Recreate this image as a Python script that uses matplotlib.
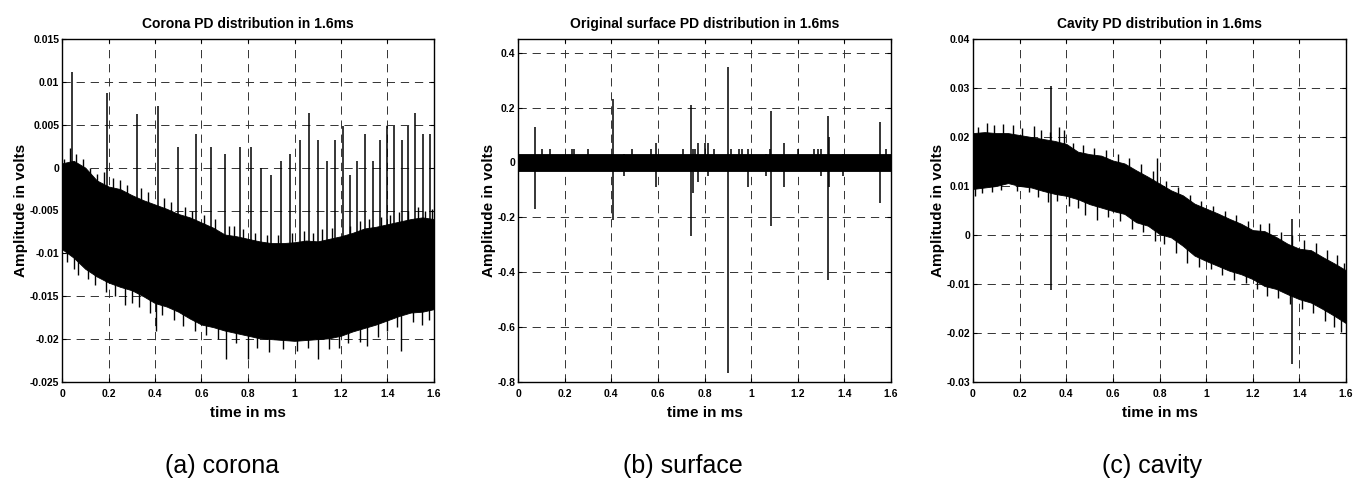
import numpy as np
import matplotlib
matplotlib.use('Agg')
import matplotlib.pyplot as plt
from matplotlib.ticker import FuncFormatter

plt.rcParams['font.family'] = ['Liberation Sans', 'DejaVu Sans']
plt.rcParams['font.weight'] = 'bold'

# envelope sample times (ms)
t_env = [round(0.05 * i, 2) for i in range(33)]

# ---- (a) corona ----
up1 = [0.0005, 0.0008, 0.0000, -0.0015, -0.0022, -0.0025, -0.0032, -0.0038, -0.0043, -0.0048, -0.0054,
       -0.0058, -0.0064, -0.0070, -0.0078, -0.0080, -0.0083, -0.0086, -0.0088, -0.0088, -0.0087, -0.0085,
       -0.0086, -0.0083, -0.0080, -0.0076, -0.0071, -0.0069, -0.0066, -0.0063, -0.0060, -0.0058, -0.0060]
lo1 = [-0.0095, -0.0105, -0.0118, -0.0127, -0.0134, -0.0139, -0.0143, -0.0150, -0.0158, -0.0162, -0.0168,
       -0.0176, -0.0183, -0.0186, -0.0190, -0.0193, -0.0196, -0.0199, -0.0200, -0.0201, -0.0202, -0.0201,
       -0.0200, -0.0199, -0.0196, -0.0191, -0.0187, -0.0183, -0.0178, -0.0173, -0.0169, -0.0168, -0.0165]
f1u_t = [0.01, 0.035, 0.06, 0.09, 0.12, 0.15, 0.18, 0.22, 0.25, 0.28, 0.34, 0.37, 0.44, 0.47, 0.53, 0.56,
         0.61, 0.66, 0.72, 0.74, 0.78, 0.83, 0.88, 0.93, 0.99, 1.04, 1.08, 1.12, 1.16, 1.24, 1.28, 1.32,
         1.37, 1.41, 1.45, 1.49, 1.53, 1.56, 1.59]
f1u_y = [0.0010, 0.0023, 0.0016, 0.0010, 0.0000, -0.0008, -0.0005, -0.0012, -0.0015, -0.0020, -0.0024,
         -0.0028, -0.0036, -0.0040, -0.0046, -0.0050, -0.0055, -0.0060, -0.0068, -0.0068, -0.0072, -0.0076,
         -0.0078, -0.0078, -0.0076, -0.0074, -0.0076, -0.0072, -0.0070, -0.0068, -0.0062, -0.0060, -0.0058,
         -0.0055, -0.0052, -0.0050, -0.0046, -0.0050, -0.0048]
f1d_t = [0.02, 0.05, 0.07, 0.11, 0.14, 0.19, 0.23, 0.27, 0.30, 0.33, 0.38, 0.405, 0.43, 0.48, 0.52, 0.57,
         0.62, 0.67, 0.705, 0.75, 0.80, 0.84, 0.89, 0.95, 1.01, 1.06, 1.10, 1.15, 1.19, 1.23, 1.28, 1.31,
         1.36, 1.40, 1.44, 1.46, 1.51, 1.55, 1.58]
f1d_y = [-0.0110, -0.0118, -0.0125, -0.0130, -0.0137, -0.0145, -0.0150, -0.0160, -0.0158, -0.0163, -0.0170,
         -0.0190, -0.0172, -0.0178, -0.0185, -0.0190, -0.0195, -0.0200, -0.0223, -0.0205, -0.0223, -0.0210,
         -0.0215, -0.0212, -0.0214, -0.0210, -0.0223, -0.0212, -0.0210, -0.0205, -0.0203, -0.0208, -0.0198,
         -0.0190, -0.0186, -0.0214, -0.0180, -0.0184, -0.0178]
s1_t = [0.042, 0.192, 0.321, 0.414, 0.50, 0.576, 0.641, 0.701, 0.766, 0.814, 0.856, 0.897, 0.942, 0.981,
        1.024, 1.062, 1.10, 1.138, 1.174, 1.21, 1.239, 1.267, 1.303, 1.336, 1.368, 1.396, 1.43, 1.461,
        1.49, 1.518, 1.551, 1.583]
s1_top = [0.0112, 0.0087, 0.0063, 0.0072, 0.0024, 0.0039, 0.0024, 0.0016, 0.0024, 0.0024, 0.0000, -0.0009,
          0.0008, 0.0016, 0.0032, 0.0064, 0.0032, 0.0008, 0.0032, 0.0048, -0.0009, 0.0008, 0.0039, 0.0008,
          0.0032, 0.0048, 0.0048, 0.0032, 0.0048, 0.0064, 0.0039, 0.0039]

# ---- (b) surface ----
t2_env = [0, 1.6]
up2 = [0.03, 0.03]
lo2 = [-0.03, -0.03]
s2_t = [0.072, 0.103, 0.139, 0.232, 0.240, 0.302, 0.408, 0.455, 0.489, 0.570, 0.593, 0.706, 0.742, 0.752,
        0.760, 0.772, 0.800, 0.817, 0.842, 0.901, 0.912, 0.950, 0.960, 0.988, 1.062, 1.082, 1.086, 1.143,
        1.200, 1.270, 1.285, 1.300, 1.330, 1.335, 1.395, 1.553, 1.578]
s2_top = [0.131, 0.049, 0.05, 0.05, 0.05, 0.05, 0.23, 0.03, 0.05, 0.05, 0.07, 0.05, 0.21, 0.05,
          0.05, 0.07, 0.07, 0.07, 0.05, 0.349, 0.05, 0.05, 0.05, 0.05, 0.03, 0.05, 0.188, 0.07,
          0.05, 0.05, 0.05, 0.05, 0.17, 0.094, 0.03, 0.146, 0.05]
s2_bot = [-0.169, -0.03, -0.03, -0.03, -0.03, -0.03, -0.209, -0.049, -0.03, -0.03, -0.088, -0.03, -0.267, -0.11,
          -0.03, -0.07, -0.03, -0.05, -0.03, -0.767, -0.03, -0.03, -0.03, -0.088, -0.049, -0.03, -0.231, -0.088,
          -0.03, -0.03, -0.03, -0.049, -0.43, -0.09, -0.049, -0.149, -0.03]

# ---- (c) cavity ----
up3 = [0.0208, 0.0210, 0.0208, 0.0208, 0.0204, 0.0200, 0.0196, 0.0192, 0.0186, 0.0170, 0.0165, 0.0162,
       0.0152, 0.0146, 0.0132, 0.0119, 0.0105, 0.0091, 0.0081, 0.0064, 0.0054, 0.0044, 0.0033, 0.0023,
       0.0010, 0.0008, -0.0004, -0.0018, -0.0028, -0.0031, -0.0045, -0.0058, -0.0072]
lo3 = [0.0094, 0.0097, 0.0100, 0.0106, 0.0100, 0.0097, 0.0090, 0.0084, 0.0080, 0.0073, 0.0063, 0.0056,
       0.0049, 0.0043, 0.0026, 0.0019, 0.0002, -0.0005, -0.0022, -0.0042, -0.0053, -0.0063, -0.0073, -0.0080,
       -0.0090, -0.0104, -0.0110, -0.0121, -0.0131, -0.0138, -0.0151, -0.0165, -0.0180]
f3u_t = [0.02, 0.06, 0.09, 0.13, 0.17, 0.21, 0.26, 0.29, 0.33, 0.37, 0.39, 0.43, 0.47, 0.52, 0.57, 0.62,
         0.67, 0.72, 0.77, 0.79, 0.83, 0.88, 0.93, 0.98, 1.03, 1.08, 1.13, 1.18, 1.23, 1.27, 1.32, 1.37,
         1.42, 1.47, 1.52, 1.56, 1.59]
f3u_y = [0.0220, 0.0228, 0.0224, 0.0226, 0.0225, 0.0218, 0.0222, 0.0214, 0.0210, 0.0220, 0.0214, 0.0188,
         0.0184, 0.0178, 0.0174, 0.0166, 0.0158, 0.0144, 0.0130, 0.0157, 0.0110, 0.0098, 0.0082, 0.0070,
         0.0060, 0.0050, 0.0040, 0.0028, 0.0022, 0.0024, 0.0006, 0.0000, -0.0010, -0.0016, -0.0030, -0.0040,
         -0.0058]
f3d_t = [0.01, 0.04, 0.08, 0.12, 0.15, 0.19, 0.24, 0.28, 0.32, 0.36, 0.41, 0.45, 0.48, 0.53, 0.58, 0.63,
         0.68, 0.73, 0.78, 0.82, 0.87, 0.92, 0.97, 1.02, 1.07, 1.12, 1.17, 1.22, 1.26, 1.31, 1.36, 1.41,
         1.46, 1.51, 1.55, 1.58]
f3d_y = [0.0080, 0.0085, 0.0088, 0.0092, 0.0112, 0.0090, 0.0088, 0.0078, 0.0068, 0.0070, 0.0060, 0.0056,
         0.0040, 0.0030, 0.0036, 0.0028, 0.0012, 0.0006, -0.0012, -0.0018, -0.0036, -0.0058, -0.0066, -0.0070,
         -0.0082, -0.0092, -0.0098, -0.0110, -0.0125, -0.0128, -0.0140, -0.0150, -0.0160, -0.0175, -0.0188,
         -0.0198]
s3_t = [0.336, 1.368]
s3_top = [0.0305, 0.0033]
s3_bot = [-0.0112, -0.0263]

titles = ['Corona PD distribution in 1.6ms', 'Original surface PD distribution in 1.6ms',
          'Cavity PD distribution in 1.6ms']
captions = ['(a) corona', '(b) surface', '(c) cavity']
yticks = [[-0.025, -0.02, -0.015, -0.01, -0.005, 0, 0.005, 0.01, 0.015],
          [-0.8, -0.6, -0.4, -0.2, 0, 0.2, 0.4],
          [-0.03, -0.02, -0.01, 0, 0.01, 0.02, 0.03, 0.04]]
ylims = [(-0.025, 0.015), (-0.8, 0.45), (-0.03, 0.04)]
xticks = [0, 0.2, 0.4, 0.6, 0.8, 1.0, 1.2, 1.4, 1.6]

fig = plt.figure(figsize=(13.56, 4.79), dpi=100)
W, H = 1356, 479
boxes = [(62, 434), (518, 891), (973, 1346)]
axes = [fig.add_axes([l / W, (H - 382) / H, (r - l) / W, 343 / H]) for l, r in boxes]

fmt = FuncFormatter(lambda v, p: '%g' % v if abs(v) > 1e-12 else '0')


def band(ax, t, up, lo):
    ax.fill_between(t, lo, up, color='k', lw=0.6, edgecolor='k', zorder=2)


def fringe(ax, t, y, t_env, up, lo, lw=1.0):
    mid = np.interp(t, t_env, (np.array(up) + np.array(lo)) / 2)
    ax.vlines(t, mid, y, color='k', lw=lw, zorder=2)


a1, a2, a3 = axes
band(a1, t_env, up1, lo1)
fringe(a1, f1u_t, f1u_y, t_env, up1, lo1)
fringe(a1, f1d_t, f1d_y, t_env, up1, lo1)
fringe(a1, s1_t, s1_top, t_env, up1, lo1, lw=1.1)

band(a2, t2_env, up2, lo2)
a2.vlines(s2_t, s2_bot, s2_top, color='k', lw=1.1, zorder=2)

band(a3, t_env, up3, lo3)
fringe(a3, f3u_t, f3u_y, t_env, up3, lo3)
fringe(a3, f3d_t, f3d_y, t_env, up3, lo3)
a3.vlines(s3_t, s3_bot, s3_top, color='k', lw=1.1, zorder=2)

centers = [222, 683, 1152]
for ax, ttl, yt, yl, cap, cx in zip(axes, titles, yticks, ylims, captions, centers):
    ax.set_xlim(0, 1.6)
    ax.set_ylim(*yl)
    ax.set_xticks(xticks)
    ax.set_yticks(yt)
    ax.xaxis.set_major_formatter(fmt)
    ax.yaxis.set_major_formatter(fmt)
    ax.grid(True, linestyle=(0, (8.5, 6)), color='0.2', linewidth=0.7, zorder=1)
    ax.set_axisbelow(True)
    ax.tick_params(direction='in', top=True, right=True, length=3, width=0.8, labelsize=7.5)
    ax.tick_params(axis='x', pad=5)
    ax.tick_params(axis='y', pad=2)
    for s in ax.spines.values():
        s.set_linewidth(1.0)
    ax.set_title(ttl, fontsize=10, fontweight='bold', pad=8)
    ax.set_xlabel('time in ms', fontsize=11, fontweight='bold', labelpad=5)
    ax.set_ylabel('Amplitude in volts', fontsize=11, fontweight='bold', labelpad=1)
    fig.text(cx / W, 1 - 473 / H, cap, fontsize=18, fontweight='normal', ha='center', va='baseline')

fig.savefig('out.png', dpi=100)
